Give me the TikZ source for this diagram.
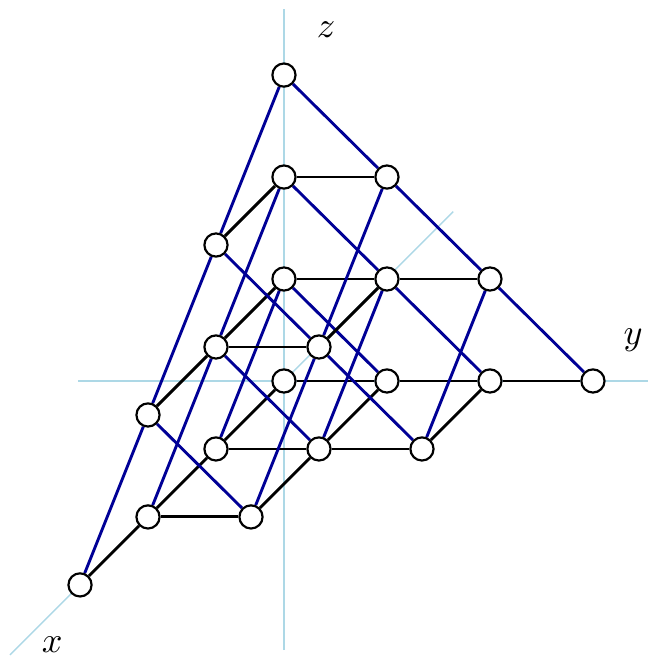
\documentclass[tikz,border=0pt]{standalone}
\usepackage{tikz}
\usetikzlibrary{backgrounds}
\definecolor{axisblue}{RGB}{173,216,230}
\definecolor{edgeblue}{RGB}{0,0,150}

\begin{document}
\begin{tikzpicture}[x={(-0.66cm,-0.66cm)},y={(1cm,0cm)},z={(0cm,0.99cm)},
    pt/.style={circle,draw,fill=white,semithick,inner sep=0pt,minimum size=0.225cm},
    axis/.style={axisblue,thin},
    layer/.style={black,thick},
    slant/.style={edgeblue,thick}]
  \useasboundingbox (-2.757cm,-2.680cm) rectangle (3.544cm,3.699cm);
  % lattice points i+j+k <= 3
  \foreach \i in {0,...,3}
    \foreach \j in {0,...,3}
      \foreach \k in {0,...,3}{
        \pgfmathtruncatemacro\s{\i+\j+\k}
        \ifnum\s<4 \node[pt] (p\i\j\k) at (\i,\j,\k) {}; \fi
      }
  \begin{scope}[on background layer]
    % axes
    \coordinate (xlo) at (-2.49,0,0);
    \coordinate (xhi) at (4.03,0,0);
    \coordinate (ylo) at (0,-2,0);
    \coordinate (yhi) at (0,3.53,0);
    \coordinate (zlo) at (0,0,-2.64);
    \coordinate (zhi) at (0,0,3.65);
    \draw[axis] (xlo) -- (xhi);
    \draw[axis] (ylo) -- (yhi);
    \draw[axis] (zlo) -- (zhi);
    % edges
    \foreach \i in {0,...,3}
      \foreach \j in {0,...,3}
        \foreach \k in {0,...,3}{
          \pgfmathtruncatemacro\s{\i+\j+\k}
          \pgfmathtruncatemacro\ii{\i+1}
          \pgfmathtruncatemacro\jj{\j+1}
          \pgfmathtruncatemacro\kk{\k-1}
          \ifnum\s<3
            \draw[layer] (p\i\j\k) -- (p\ii\j\k);
            \draw[layer] (p\i\j\k) -- (p\i\jj\k);
          \fi
          \ifnum\s<4 \ifnum\k>0
            \draw[slant] (p\i\j\k) -- (p\ii\j\kk);
            \draw[slant] (p\i\j\k) -- (p\i\jj\kk);
          \fi\fi
        }
  \end{scope}
  \node (xlab) at (-2.25cm,-2.56cm) {$x$};
  \node (ylab) at (3.39cm,0.40cm) {$y$};
  \node (zlab) at (0.41cm,3.41cm) {$z$};
\end{tikzpicture}
\end{document}
